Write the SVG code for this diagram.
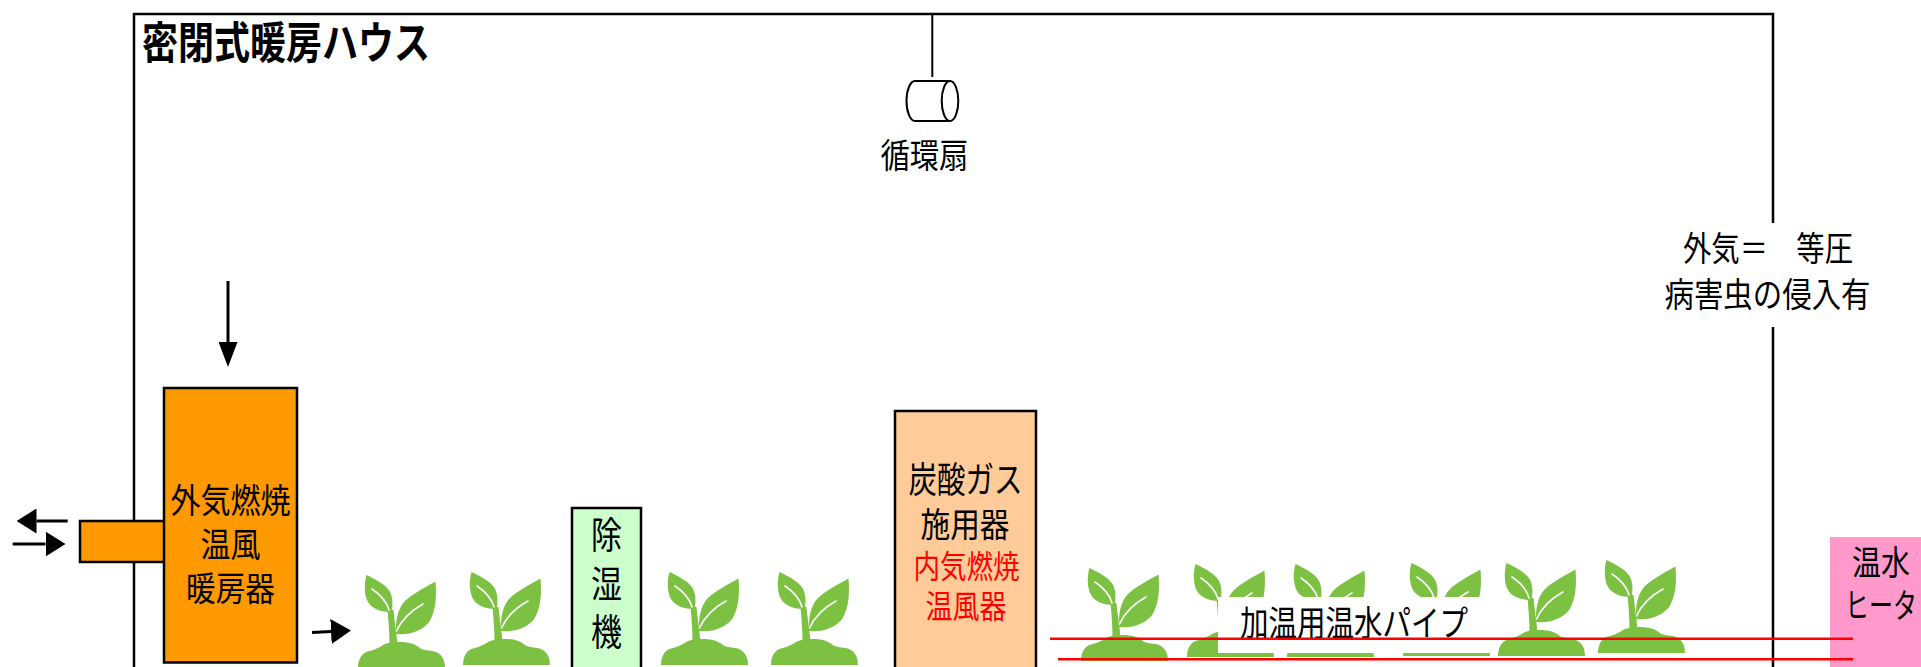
<svg xmlns="http://www.w3.org/2000/svg" xmlns:xlink="http://www.w3.org/1999/xlink" width="1921" height="667" viewBox="0 0 1921 667">
  <style>
    .wall { fill: none; stroke: #000; stroke-width: 2.5; }
    .box { stroke: #000; stroke-width: 2.5; }
    .lbl { font-family: "Noto Sans CJK JP", "Noto Sans", sans-serif; font-size: 34px; fill: #000; text-anchor: middle; }
    .title { font-family: "Noto Sans CJK JP", "Noto Sans", sans-serif; font-size: 44px; font-weight: 700; fill: #000; }
    .red { fill: #FF0000; }
    .arrow { stroke: #000; stroke-width: 3; fill: none; }
    .pipe { stroke: #FF0000; stroke-width: 2.5; }
    .leaf { fill: #7DC142; }
    .vein { fill: none; stroke: #fff; stroke-width: 1.6; stroke-linecap: round; }
  </style>
  <defs>
    <marker id="headH" markerUnits="userSpaceOnUse" viewBox="0 0 20 25" refX="0" refY="12.5" markerWidth="20" markerHeight="25" orient="auto">
      <path d="M0,0 L20,12.5 L0,25 Z" fill="#000"/>
    </marker>
    <marker id="headV" markerUnits="userSpaceOnUse" viewBox="0 0 25 19" refX="0" refY="9.5" markerWidth="25" markerHeight="19" orient="auto">
      <path d="M0,0 L25,9.5 L0,19 Z" fill="#000"/>
    </marker>
    <!-- seedling icon, 87 x 95 -->
    <g id="seedling">
      <path class="leaf" d="M0,95 C0,86 4,79 12,78 C15,77 18,76 22,74 C27,70 33,69 42,69 C51,69 57,71 62,75 C64,77 70,77 74,78 C82,79 87,85 87,95 Z"/>
      <path class="leaf" d="M29.5,37 C30.5,48 31.5,60 31.5,72 L39.5,72 C38.5,60 36.5,48 35.5,37 Z"/>
      <path class="leaf" d="M32,39 C24,39 14,36 10,29 C6,22 6,10 8.5,2 C17,6 27,11 31.5,18 C35,24 35,32 33.5,39 Z"/>
      <path class="leaf" d="M38,61 C37.5,48 39.5,36 46.5,28.5 C55,20.5 67,14.5 77.5,8.5 C78.5,22 78.5,36 71.5,48.5 C65,57.5 52,62.5 38,61 Z"/>
      <path class="vein" d="M14,16 C20,20 28,26 31,37"/>
      <path class="vein" d="M65,31 C54,37 44,46 38.5,58"/>
    </g>
  </defs>

  <rect width="1921" height="667" fill="#fff"/>

  <!-- greenhouse walls -->
  <g id="house">
    <path class="wall" d="M134,667 V14 H1773 V223 M1773,327 V667"/>
    <text class="title" x="142" y="59" textLength="288" lengthAdjust="spacingAndGlyphs">密閉式暖房ハウス</text>
  </g>

  <!-- circulation fan -->
  <g id="fan">
    <line x1="932.3" y1="14" x2="932.3" y2="77" stroke="#000" stroke-width="2"/>
    <path d="M950,81 H915 A8.5,20 0 0 0 915,121 H950" fill="#fff" stroke="#000" stroke-width="2"/>
    <ellipse cx="950" cy="101" rx="8.3" ry="20" fill="#fff" stroke="#000" stroke-width="2"/>
    <text class="lbl" x="924.5" y="168" textLength="88" lengthAdjust="spacingAndGlyphs">循環扇</text>
  </g>

  <!-- pressure note on the right wall -->
  <g id="note">
    <text class="lbl" x="1768" y="261" textLength="170" lengthAdjust="spacingAndGlyphs">外気＝　等圧</text>
    <text class="lbl" x="1767.5" y="307" textLength="206" lengthAdjust="spacingAndGlyphs">病害虫の侵入有</text>
  </g>

  <!-- plants -->
  <g id="plants">
    <use xlink:href="#seedling" href="#seedling" x="358" y="573"/>
    <use xlink:href="#seedling" href="#seedling" x="463" y="570"/>
    <use xlink:href="#seedling" href="#seedling" x="661" y="570"/>
    <use xlink:href="#seedling" href="#seedling" x="771" y="570"/>
    <use xlink:href="#seedling" href="#seedling" x="1081" y="566"/>
    <use xlink:href="#seedling" href="#seedling" x="1187" y="562"/>
    <use xlink:href="#seedling" href="#seedling" x="1287" y="562"/>
    <use xlink:href="#seedling" href="#seedling" x="1403" y="561"/>
    <use xlink:href="#seedling" href="#seedling" x="1498" y="561"/>
    <use xlink:href="#seedling" href="#seedling" x="1598" y="558"/>
  </g>

  <!-- exhaust-combustion warm-air heater -->
  <g id="heater">
    <rect class="box" x="80" y="521" width="85" height="41" fill="#FF9900"/>
    <rect class="box" x="164" y="388" width="133" height="274.5" fill="#FF9900"/>
    <text class="lbl" x="230.5" y="513" textLength="120" lengthAdjust="spacingAndGlyphs">外気燃焼</text>
    <text class="lbl" x="230.5" y="557" textLength="60" lengthAdjust="spacingAndGlyphs">温風</text>
    <text class="lbl" x="230.5" y="601" textLength="89" lengthAdjust="spacingAndGlyphs">暖房器</text>
  </g>

  <!-- dehumidifier -->
  <g id="dehumidifier">
    <rect class="box" x="572" y="508" width="69" height="175" fill="#CCFFCC"/>
    <g class="lbl" style="font-size:37px">
      <text x="606.5" y="549" textLength="31" lengthAdjust="spacingAndGlyphs">除</text>
      <text x="606.5" y="598" textLength="31" lengthAdjust="spacingAndGlyphs">湿</text>
      <text x="606.5" y="646" textLength="31" lengthAdjust="spacingAndGlyphs">機</text>
    </g>
  </g>

  <!-- CO2 applicator -->
  <g id="co2">
    <rect class="box" x="895" y="411" width="141" height="270" fill="#FFCC99"/>
    <text class="lbl" x="965.5" y="493" style="font-size:36px" textLength="114" lengthAdjust="spacingAndGlyphs">炭酸ガス</text>
    <text class="lbl" x="965" y="537" textLength="89" lengthAdjust="spacingAndGlyphs">施用器</text>
    <text class="lbl red" x="966.5" y="578" style="font-size:32px" textLength="106" lengthAdjust="spacingAndGlyphs">内気燃焼</text>
    <text class="lbl red" x="966" y="618" style="font-size:32px" textLength="81" lengthAdjust="spacingAndGlyphs">温風器</text>
  </g>

  <!-- hot-water heater -->
  <g id="boiler">
    <rect x="1830" y="537" width="91" height="130" fill="#FF99CC"/>
    <text class="lbl" x="1852" y="575" style="text-anchor:start" textLength="58" lengthAdjust="spacingAndGlyphs">温水</text>
    <text class="lbl" x="1845" y="618" style="text-anchor:start" textLength="72" lengthAdjust="spacingAndGlyphs">ヒータ</text>
  </g>

  <!-- heating pipe -->
  <g id="pipe">
    <rect x="1218" y="597" width="272" height="56" fill="#fff"/>
    <text class="lbl" x="1354" y="636" style="font-size:35px" textLength="228" lengthAdjust="spacingAndGlyphs">加温用温水パイプ</text>
    <line class="pipe" x1="1050" y1="638.7" x2="1853" y2="638.7"/>
    <line class="pipe" x1="1058" y1="659.3" x2="1853" y2="659.3"/>
  </g>

  <!-- air-flow connectors -->
  <g id="connectors">
    <line class="arrow" x1="228" y1="281" x2="228" y2="342" marker-end="url(#headV)"/>
    <line class="arrow" x1="67.7" y1="521" x2="36.5" y2="521" marker-end="url(#headH)"/>
    <line class="arrow" x1="12.6" y1="544" x2="45.5" y2="544" marker-end="url(#headH)"/>
    <line class="arrow" x1="312" y1="632.5" x2="331" y2="631.5" marker-end="url(#headH)"/>
  </g>
</svg>
